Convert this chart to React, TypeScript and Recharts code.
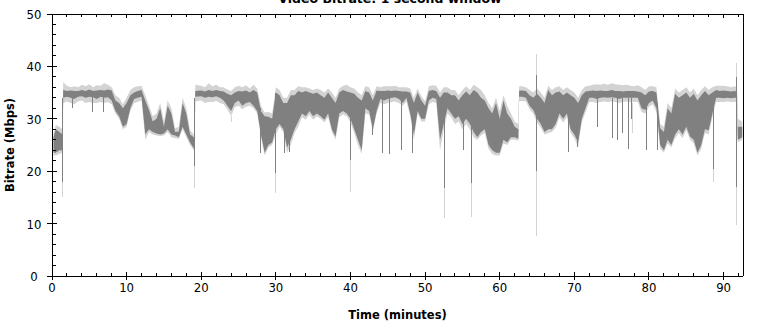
import React from "react";
import { ComposedChart, Area, XAxis, YAxis, ReferenceLine } from "recharts";

// sample times (minutes) and bitrate bands (Mbps)
const times = [
  0.2, 0.5, 1, 1.4, 1.5, 2, 2.5, 3, 3.5, 4, 4.5, 5, 5.5, 6, 6.5, 7, 7.5, 8, 8.5, 9, 9.5, 10,
  10.5, 11, 11.5, 12, 12.5, 13, 13.5, 14, 14.5, 15, 15.5, 16, 16.5, 17, 17.5, 18, 18.5, 19,
  19.1, 19.2, 20, 20.5, 21, 21.5, 22, 22.5, 23, 23.5, 24, 24.5, 25, 25.5, 26, 26.5, 27, 27.5,
  28, 28.5, 29, 29.5, 30, 30.5, 31, 31.5, 32, 32.5, 33, 33.5, 34, 34.5, 35, 35.5, 36, 36.5,
  37, 37.5, 38, 38.5, 39, 39.5, 40, 40.5, 41, 41.5, 42, 42.5, 43, 43.5, 44, 44.5, 45, 45.5,
  46, 46.5, 47, 47.5, 48, 48.5, 49, 49.5, 50, 50.5, 51, 51.5, 52, 52.5, 53, 53.5, 54, 54.5,
  55, 55.5, 56, 56.5, 57, 57.5, 58, 58.5, 59, 59.5, 60, 60.5, 61, 61.5, 62, 62.5, 62.6, 63,
  63.5, 64, 64.5, 65, 65.5, 66, 66.5, 67, 67.5, 68, 68.5, 69, 69.5, 70, 70.5, 71, 71.5, 72,
  72.5, 73, 73.5, 74, 74.5, 75, 75.5, 76, 76.5, 77, 77.5, 78, 78.5, 79, 79.5, 80, 80.5, 81,
  81.5, 82, 82.5, 83, 83.5, 84, 84.5, 85, 85.5, 86, 86.5, 87, 87.5, 88, 88.5, 89, 89.5, 90,
  90.5, 91, 91.5, 91.8, 91.9, 92.5,
];

const darkLow = [
  23.5, 23.5, 24, 24, 34, 34.2, 34, 33.8, 34.2, 34.3, 34, 34.2, 34.1, 33.8, 34.2, 34, 34.1, 33.5, 31.5, 30.5, 28.5, 29,
  32, 33.8, 34, 34.2, 27, 28, 27.5, 27.2, 27, 27.2, 28, 27, 26.8, 26.5, 28.5, 27, 25.5, 24.4,
  24.4, 34.2, 34.3, 34, 34.2, 34.1, 34.3, 34, 33.5, 32.5, 31.5, 33, 33.5, 32.5, 33, 33.2, 32.5, 31.5,
  27, 23.5, 25, 25.5, 28, 29, 28, 24.5, 26, 28, 29.5, 31, 30.5, 31.5, 30.5, 31, 30.5, 29.8,
  31, 28, 26.6, 31, 31.5, 31, 30, 28, 26, 24, 32, 31.5, 28, 31.5, 33.8, 33.5, 33.8, 34,
  34.1, 33.8, 33, 34, 31, 27, 31.5, 30, 30, 33.5, 34, 33.8, 26, 29, 32, 31, 30, 30.5,
  29, 30, 29, 27.5, 26.5, 27.5, 28, 25, 24, 23.5, 23.5, 26, 25.5, 26.5, 26.5, 26.2, 34.2, 34.2,
  34, 32.5, 31.7, 30, 29, 27.5, 28, 28, 29, 31, 30, 31, 28, 27, 25.5, 30, 32, 34,
  34, 33.8, 34, 34.1, 34, 34.1, 34, 33.8, 34, 34, 34, 34, 34, 32, 31.7, 33, 33.5, 32,
  25, 24, 26, 25, 27, 28, 27, 28.5, 26.6, 26, 23.5, 25, 28, 27.8, 31, 34, 34, 33.9,
  34, 33.9, 34, 34, 26, 26.5,
];

const darkHigh = [
  26.5, 28, 27.5, 27, 35.5, 35.3, 35.4, 35.3, 35.3, 35.5, 35.3, 35.6, 35.3, 35.4, 35.5, 35.4, 35.6, 35.4, 33.5, 33, 32, 33,
  34.5, 35, 35.3, 35.5, 33.5, 31.7, 29.5, 30, 32, 28.5, 32.5, 31, 27.5, 27.6, 33, 31, 27, 26.5,
  26, 35.3, 35.4, 35.2, 35.5, 35.3, 35.5, 35.3, 35.2, 34.8, 34.5, 35, 35.3, 35.2, 35.4, 35, 35.5, 35,
  31.5, 30.5, 30.4, 30, 35, 34.5, 33, 33, 34.5, 34.5, 35.3, 35, 35.3, 35, 34.8, 35, 34.5, 34,
  35, 34, 33, 35, 35.5, 35.2, 35, 34.8, 34, 33.5, 35.3, 35, 33.5, 35.4, 35.3, 35.3, 35.4, 35.3,
  35.4, 35.3, 35.2, 35.2, 35, 33, 35, 33.5, 32.5, 35.3, 35.5, 35.3, 34, 35, 35, 34.5, 34.5, 33.5,
  34.5, 35.2, 34.5, 35.5, 35, 34, 33.5, 32, 31, 33, 30, 33.5, 31, 30, 28.5, 28, 35.4, 35.4,
  35.3, 34.5, 34, 34.8, 34, 33, 35.5, 34.5, 35, 35.2, 34.5, 35, 34.5, 34, 33, 34.5, 35.2, 35.3,
  35.4, 35.3, 35.4, 35.3, 35.3, 35.5, 35.3, 35.3, 35.2, 35.3, 35.3, 35.3, 35.2, 35, 34.5, 35.2, 35.3, 35,
  28.2, 27.5, 32, 31, 34.8, 34, 34.5, 35, 34, 34.8, 33.5, 34.5, 35.3, 34.5, 35, 35.5, 35.3, 35.4,
  35.3, 35.2, 35.3, 35.2, 28.5, 28.5,
];

const lightLow = [
  23, 23, 23.3, 23.5, 33, 33.3, 33, 32.8, 33.3, 33.5, 33, 33.2, 33, 33, 33.2, 33, 33.2, 32.8, 31, 30, 28, 28.5,
  31.5, 33, 33.2, 33.5, 26, 27.5, 27, 26.8, 26.7, 26.8, 27.5, 26.5, 26.3, 26.2, 28, 26.5, 25, 24,
  24, 33.3, 33.5, 33, 33.2, 33.2, 33.4, 33, 32.8, 31.8, 30.5, 32.2, 32.5, 31.8, 32.3, 32.5, 32, 31,
  26.5, 23, 24.5, 25, 27, 28.5, 27.5, 23.5, 25, 27.3, 28.5, 30.3, 29.8, 30.8, 29.8, 30.5, 30, 29.3,
  30.3, 27.5, 26, 30.3, 30.8, 30.5, 29.3, 27.3, 25, 23.3, 31, 30.8, 27.5, 31, 33, 32.8, 33, 33.2,
  33.3, 33, 32.5, 33.3, 30.5, 26, 31, 29.5, 29.5, 32.8, 33.2, 33, 24, 28, 31, 30.3, 29, 29.5,
  28, 29, 28, 26.5, 26, 26.8, 27.3, 24.3, 23.3, 23, 23, 25.3, 25, 26, 26, 25.8, 33.4, 33.4,
  33.3, 31.8, 31, 29.3, 28.3, 27, 27.3, 27.5, 28.3, 30.3, 29.3, 30.3, 27.3, 26.3, 24.6, 29.3, 31.3, 33.2,
  33.2, 33, 33.2, 33.3, 33.2, 33.3, 33.2, 33, 33.2, 33.3, 33.2, 33.2, 33.2, 31.3, 31, 32.3, 32.8, 31.3,
  24.3, 23.5, 25.3, 24.5, 26.3, 27.3, 26.3, 27.8, 26, 25.3, 23, 24.3, 27.3, 27, 30.3, 33.2, 33.2, 33.2,
  33.3, 33.2, 33.2, 33.2, 25.5, 26,
];

const lightHigh = [
  27, 28.8, 28.5, 28, 37, 36.3, 36, 36.2, 36, 36.5, 36.2, 36.6, 36, 36.4, 36.3, 36.8, 36.5, 36, 34.5, 34, 32.8, 34,
  35.5, 36, 36.2, 36.3, 34.5, 32.5, 30.5, 31, 33, 29.5, 33.5, 32, 28.2, 28.5, 34, 32, 27.8, 27,
  26.8, 36.5, 36.3, 36, 36.8, 36.2, 36.5, 36, 36, 35.6, 35.3, 36, 36.3, 36, 36.4, 35.8, 36.5, 35.8,
  32.5, 31.2, 31.3, 31, 36, 35.5, 34, 34, 35.5, 35.5, 36.2, 36, 36, 35.8, 35.5, 35.8, 35.5, 35,
  35.8, 35, 34, 35.8, 36.3, 36.5, 36, 35.8, 35, 34.5, 36.2, 36, 34.5, 36.2, 36, 36.2, 36.2, 36.2,
  36.3, 36, 36, 36, 35.8, 34, 35.8, 34.3, 33.3, 36.2, 36.4, 36.3, 35, 36, 36, 35.5, 35.5, 34.5,
  35.5, 36.2, 35.5, 36.5, 36, 35.5, 34.5, 33, 32, 34, 31.5, 34.5, 32.5, 31, 29.5, 29, 36.2, 36.2,
  36, 35.5, 35, 35.8, 35, 34, 36.3, 35.5, 36, 36.2, 35.5, 36, 35.5, 35, 34, 35.5, 36.2, 36.3,
  36.5, 36.6, 36.5, 36.7, 36.5, 36.8, 36.6, 36.5, 36.4, 36.5, 36.3, 36.2, 36.4, 36, 35.5, 36.2, 36.2, 36,
  29, 28.5, 33, 32, 35.8, 35, 35.5, 36, 35, 35.8, 34.5, 35.5, 36.2, 35.5, 36, 36.3, 36.3, 36.3,
  36.2, 36, 36.2, 36, 30, 29.5,
];

// narrow one-second spikes: time, low, high
const darkSpikeT = [
  1.42, 19.12, 30, 40, 52.6, 56.2, 64.95, 88.6, 91.75, 2.7, 5.4, 6.9, 27.9, 31.1, 31.8, 42.9,
  44.3, 45.2, 46.9, 48.3, 55.2, 69.2, 70.4, 73.1, 75.1, 75.8, 76.5, 77.2, 77.6, 79.7, 81.2,
];
const darkSpikeLo = [
  18, 20.9, 19.7, 22.1, 16.7, 17.7, 20, 20.5, 17, 32, 31.3, 31.3, 23.4, 23.5, 23.7, 26.9,
  23.5, 23.3, 24, 23.5, 24, 23.7, 24.6, 28.5, 26.3, 26, 27.2, 24.3, 30, 24, 24,
];
const darkSpikeHi = [
  34, 34, 35, 35, 35, 35, 38.4, 35, 38, 34.5, 34.5, 34.5, 32, 30, 30, 31,
  34, 34, 34, 32, 31, 33, 32, 34, 34, 34, 34, 34, 34, 33, 33,
];

const lightSpikeT = [1.42, 19.12, 30, 40, 52.6, 56.2, 64.95, 64.95, 88.6, 91.75, 91.75, 24, 77.8];
const lightSpikeLo = [15.1, 16.8, 15.8, 16.1, 11, 11.3, 7.7, 38.4, 18, 9.7, 38, 29.4, 27.2];
const lightSpikeHi = [18, 20.9, 19.7, 22.1, 16.7, 17.7, 20, 42.3, 20.5, 17, 40.6, 30.5, 33];

const xTicks = [0, 2, 4, 6, 8, 10, 12, 14, 16, 18, 20, 22, 24, 26, 28, 30, 32, 34, 36, 38, 40, 42, 44, 46, 48, 50, 52, 54, 56, 58, 60, 62, 64, 66, 68, 70, 72, 74, 76, 78, 80, 82, 84, 86, 88, 90, 92];
const yTicks = [0, 2, 4, 6, 8, 10, 12, 14, 16, 18, 20, 22, 24, 26, 28, 30, 32, 34, 36, 38, 40, 42, 44, 46, 48, 50];

const rows = times.map((t, i) => ({
  t,
  light: [lightLow[i], lightHigh[i]],
  dark: [darkLow[i], darkHigh[i]],
}));

const tickFont = "'Liberation Sans Narrow', 'DejaVu Sans Condensed', 'Liberation Sans', sans-serif";
const titleFont = "'DejaVu Sans', Verdana, sans-serif";

const BottomTick = ({ x, y, payload }: any) => {
  const major = payload.value % 10 === 0;
  return (
    <g>
      <line x1={x} x2={x} y1={major ? y - 4 : y - 3} y2={major ? y + 4 : y} stroke="#000" />
      {major && (
        <text x={x} y={y + 16} textAnchor="middle" fontFamily={tickFont} fontSize={13} fill="#000">
          {payload.value}
        </text>
      )}
    </g>
  );
};

const TopTick = ({ x, y, payload }: any) => {
  const major = payload.value % 10 === 0;
  return <line x1={x} x2={x} y1={y} y2={major ? y + 4 : y + 3} stroke="#000" />;
};

const LeftTick = ({ x, y, payload }: any) => {
  const major = payload.value % 10 === 0;
  return (
    <g>
      <line x1={major ? x - 5 : x} x2={major ? x + 5 : x + 4} y1={y} y2={y} stroke="#000" />
      {major && (
        <text x={x - 18} y={y + 5} textAnchor="middle" fontFamily={tickFont} fontSize={13} fill="#000">
          {payload.value}
        </text>
      )}
    </g>
  );
};

const RightTick = ({ x, y, payload }: any) => {
  const major = payload.value % 10 === 0;
  return (
    <g>
      <line x1={major ? x - 5 : x - 4} x2={major ? x + 5 : x} y1={y} y2={y} stroke="#000" />
      {major && (
        <text x={x + 17} y={y + 5} textAnchor="middle" fontFamily={tickFont} fontSize={13} fill="#000">
          {payload.value}
        </text>
      )}
    </g>
  );
};

export default function App() {
  return (
    <div className="chart" style={{ position: "absolute", left: 0, top: 0, background: "#fff" }}>
      <style>{".chart svg line { shape-rendering: crispEdges; }"}</style>
      <ComposedChart width={774} height={326} data={rows} margin={{ top: 0, right: 0, bottom: 0, left: 0 }}>
        <XAxis
          xAxisId="b"
          dataKey="t"
          type="number"
          domain={[0, 92.6]}
          ticks={xTicks}
          interval={0}
          height={50}
          tickSize={0}
          tickMargin={0}
          tickLine={false}
          axisLine={{ stroke: "#000" }}
          tick={<BottomTick />}
          label={({ viewBox }: any) => (
            <text
              x={viewBox.x + viewBox.width / 2}
              y={viewBox.y + 43}
              textAnchor="middle"
              fontFamily={titleFont}
              fontWeight="bold"
              fontSize={11.5}
              fill="#000"
            >
              Time (minutes)
            </text>
          )}
        />
        <XAxis
          xAxisId="top"
          orientation="top"
          dataKey="t"
          type="number"
          domain={[0, 92.6]}
          ticks={xTicks}
          interval={0}
          height={14}
          tickSize={0}
          tickMargin={0}
          tickLine={false}
          axisLine={{ stroke: "#000" }}
          tick={<TopTick />}
          label={({ viewBox }: any) => (
            <text
              x={390}
              y={viewBox.y + 3}
              textAnchor="middle"
              fontFamily={titleFont}
              fontWeight="bold"
              fontSize={12.5}
              fill="#000"
            >
              Video Bitrate: 1 second window
            </text>
          )}
        />
        <YAxis
          yAxisId="l"
          type="number"
          domain={[0, 50]}
          ticks={yTicks}
          interval={0}
          width={52}
          tickSize={0}
          tickMargin={0}
          tickLine={false}
          axisLine={{ stroke: "#000" }}
          tick={<LeftTick />}
          label={({ viewBox }: any) => {
            const cx = viewBox.x + 14;
            const cy = viewBox.y + viewBox.height / 2;
            return (
              <text
                x={cx}
                y={cy}
                transform={`rotate(-90 ${cx} ${cy})`}
                textAnchor="middle"
                fontFamily={titleFont}
                fontWeight="bold"
                fontSize={11.5}
                fill="#000"
              >
                Bitrate (Mbps)
              </text>
            );
          }}
        />
        <YAxis
          yAxisId="r"
          orientation="right"
          type="number"
          domain={[0, 50]}
          ticks={yTicks}
          interval={0}
          width={31}
          tickSize={0}
          tickMargin={0}
          tickLine={false}
          axisLine={{ stroke: "#000" }}
          tick={<RightTick />}
        />
        <Area
          xAxisId="b"
          yAxisId="l"
          dataKey="light"
          type="linear"
          stroke="none"
          fill="#d3d3d3"
          fillOpacity={1}
          isAnimationActive={false}
          dot={false}
          activeDot={false}
        />
        <Area
          xAxisId="b"
          yAxisId="l"
          dataKey="dark"
          type="linear"
          stroke="none"
          fill="#808080"
          fillOpacity={1}
          isAnimationActive={false}
          dot={false}
          activeDot={false}
        />
        {lightSpikeT.map((t, i) => (
          <ReferenceLine
            key={`ls-${i}`}
            xAxisId="b"
            yAxisId="l"
            segment={[{ x: t, y: lightSpikeLo[i] }, { x: t, y: lightSpikeHi[i] }]}
            stroke="#d3d3d3"
            strokeWidth={1}
          />
        ))}
        {darkSpikeT.map((t, i) => (
          <ReferenceLine
            key={`ds-${i}`}
            xAxisId="b"
            yAxisId="l"
            segment={[{ x: t, y: darkSpikeLo[i] }, { x: t, y: darkSpikeHi[i] }]}
            stroke="#808080"
            strokeWidth={1}
          />
        ))}
      </ComposedChart>
    </div>
  );
}
